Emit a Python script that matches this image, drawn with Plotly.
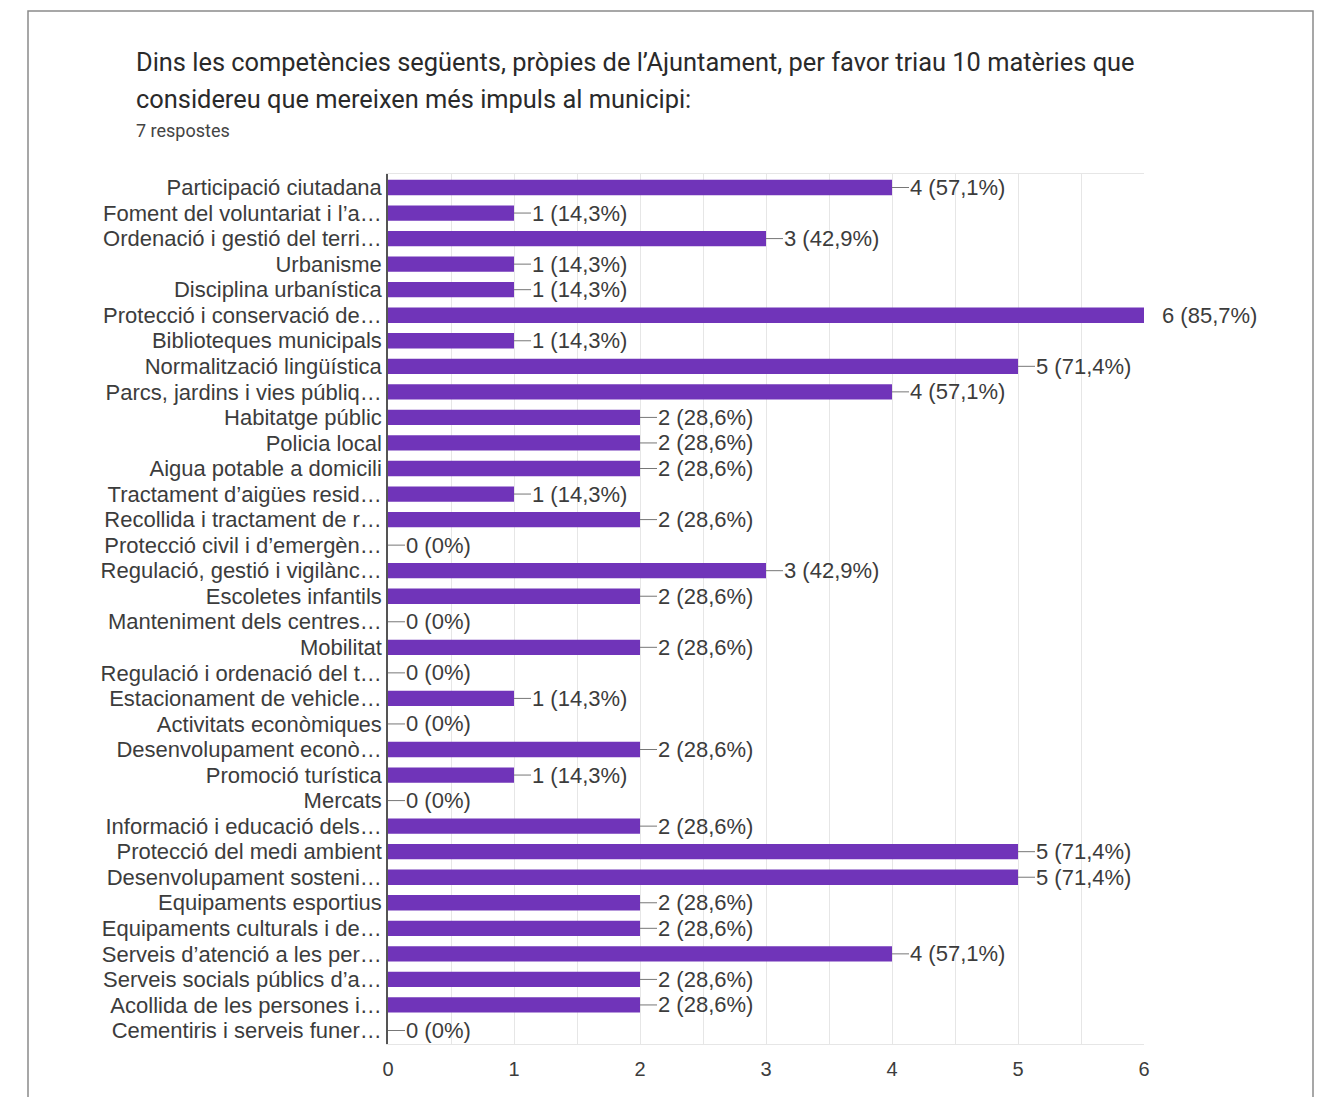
import plotly.graph_objects as go

categories = [
    "Participació ciutadana",
    "Foment del voluntariat i l’a…",
    "Ordenació i gestió del terri…",
    "Urbanisme",
    "Disciplina urbanística",
    "Protecció i conservació de…",
    "Biblioteques municipals",
    "Normalització lingüística",
    "Parcs, jardins i vies públiq…",
    "Habitatge públic",
    "Policia local",
    "Aigua potable a domicili",
    "Tractament d’aigües resid…",
    "Recollida i tractament de r…",
    "Protecció civil i d’emergèn…",
    "Regulació, gestió i vigilànc…",
    "Escoletes infantils",
    "Manteniment dels centres…",
    "Mobilitat",
    "Regulació i ordenació del t…",
    "Estacionament de vehicle…",
    "Activitats econòmiques",
    "Desenvolupament econò…",
    "Promoció turística",
    "Mercats",
    "Informació i educació dels…",
    "Protecció del medi ambient",
    "Desenvolupament sosteni…",
    "Equipaments esportius",
    "Equipaments culturals i de…",
    "Serveis d’atenció a les per…",
    "Serveis socials públics d’a…",
    "Acollida de les persones i…",
    "Cementiris i serveis funer…",
]
values = [4, 1, 3, 1, 1, 6, 1, 5, 4, 2, 2, 2, 1, 2, 0, 3, 2, 0, 2, 0, 1, 0, 2, 1, 0, 2, 5, 5, 2, 2, 4, 2, 2, 0]
n_responses = 7
tick_values = [0, 1, 2, 3, 4, 5, 6]

title_line1 = "Dins les competències següents, pròpies de l’Ajuntament, per favor triau 10 matèries que"
title_line2 = "considereu que mereixen més impuls al municipi:"
subtitle = "7 respostes"


def pct_label(v):
    if v == 0:
        return "0 (0%)"
    p = round(v / n_responses * 100, 1)
    return f"{v} ({p:.1f}%)".replace(".", ",")


labels = [pct_label(v) for v in values]

OFF = 8  # page body margin
W, H = 1325 - OFF, 1097 - OFF
PL, PR, PT, PB = 388 - OFF, 1144 - OFF, 174 - OFF, 1044 - OFF
L, R, T, B = PL, W - PR, PT, H - PB
pw, ph = PR - PL, PB - PT

def px_x(p):
    return (p - OFF - PL) / pw

def px_y(p):
    return (PB - (p - OFF)) / ph

BAR = "#7034b9"
TXT = "#3c3c3c"
FONT = "Liberation Sans, Arial, sans-serif"

fig = go.Figure(go.Bar(
    x=values, y=categories, orientation="h",
    marker=dict(color=BAR, line=dict(width=0)),
    width=0.6, hoverinfo="x+y",
))

vmax = max(values)
anns = []
for c, v, lab in zip(categories, values, labels):
    if v == vmax:
        anns.append(dict(x=v, y=c, xref="x", yref="y", text=lab, showarrow=False,
                         xanchor="left", xshift=16, font=dict(size=22, color=TXT, family=FONT)))
    else:
        anns.append(dict(x=v, y=c, xref="x", yref="y", text=lab, showarrow=True,
                         arrowhead=0, arrowwidth=1, arrowcolor="#777", ax=17, ay=0,
                         xanchor="left", borderpad=0, standoff=0,
                         font=dict(size=22, color=TXT, family=FONT)))

anns += [
    dict(x=px_x(134), y=px_y(62), xref="paper", yref="paper", text=title_line1, showarrow=False,
         xanchor="left", yanchor="middle", font=dict(size=25.4, color="#2a2a2a", family="Roboto")),
    dict(x=px_x(134), y=px_y(99), xref="paper", yref="paper", text=title_line2, showarrow=False,
         xanchor="left", yanchor="middle", font=dict(size=25.4, color="#2a2a2a", family="Roboto")),
    dict(x=px_x(134), y=px_y(131), xref="paper", yref="paper", text=subtitle, showarrow=False,
         xanchor="left", yanchor="middle", font=dict(size=18, color="#444", family="Roboto")),
]

fig.update_layout(
    width=W, height=H,
    margin=dict(l=L, r=R, t=T, b=B, pad=0),
    paper_bgcolor="white", plot_bgcolor="white",
    showlegend=False,
    annotations=anns,
    shapes=[dict(type="rect", xref="paper", yref="paper",
                 x0=px_x(28), x1=px_x(1313), y0=px_y(1130), y1=px_y(11),
                 line=dict(color="#8a8a8a", width=1.5), fillcolor="rgba(0,0,0,0)", layer="below")],
    font=dict(family=FONT, color=TXT),
)
fig.update_xaxes(
    range=[0, 6], tickvals=tick_values, showgrid=True, gridcolor="#e6e6e6", gridwidth=1,
    minor=dict(dtick=0.5, showgrid=True, gridcolor="#e6e6e6", gridwidth=1),
    zeroline=False, showline=True, linecolor="#e6e6e6", mirror=True,
    ticks="outside", ticklen=7, tickcolor="rgba(0,0,0,0)",
    tickfont=dict(size=20, color=TXT, family=FONT), fixedrange=True,
)
fig.update_yaxes(
    autorange="reversed", showgrid=False, showline=True, linecolor="#555", linewidth=1.5,
    tickmode="array", tickvals=categories, ticktext=categories,
    ticks="", ticklabelstandoff=0, tickfont=dict(size=22, color=TXT, family=FONT), fixedrange=True,
)

fig.write_html("out.html")
